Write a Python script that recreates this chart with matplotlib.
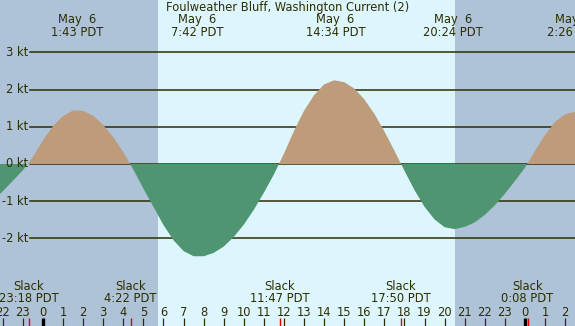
"""Foulweather Bluff current prediction, May 6 (flood/ebb fill with day/night bands)."""
import matplotlib
matplotlib.use("Agg")
import matplotlib.pyplot as plt
import numpy as np

# ---------------------------------------------------------------- data
# hours relative to May 6 00:00 PDT, current speed in knots
hours = [-2.5, -2.0, -1.5, -1.0, -0.5, 0.0, 0.5, 1.0, 1.5, 2.0, 2.5, 3.0,
         3.5, 4.0, 4.5, 5.0, 5.5, 6.0, 6.5, 7.0, 7.5, 8.0, 8.5, 9.0, 9.5,
         10.0, 10.5, 11.0, 11.5, 12.0, 12.5, 13.0, 13.5, 14.0, 14.5, 15.0,
         15.5, 16.0, 16.5, 17.0, 17.5, 18.0, 18.5, 19.0, 19.5, 20.0, 20.5,
         21.0, 21.5, 22.0, 22.5, 23.0, 23.5, 24.0, 24.5, 25.0, 25.5, 26.0,
         26.5, 27.0]
knots = [-1.00, -0.73, -0.45, -0.17, 0.19, 0.64, 1.02, 1.29, 1.44, 1.43,
         1.30, 1.05, 0.72, 0.32, -0.15, -0.66, -1.15, -1.64, -2.05, -2.34,
         -2.48, -2.48, -2.39, -2.22, -1.96, -1.63, -1.23, -0.77, -0.28,
         0.28, 0.89, 1.43, 1.85, 2.14, 2.25, 2.20, 2.03, 1.74, 1.35, 0.88,
         0.36, -0.18, -0.70, -1.15, -1.49, -1.70, -1.75, -1.69, -1.57,
         -1.37, -1.11, -0.80, -0.46, -0.10, 0.35, 0.78, 1.13, 1.34, 1.40,
         1.33]

sunrise, sunset = 5.71, 20.52

slack_hours = [-0.70, 4.37, 11.78, 17.83, 24.13]
slack_labels = ["23:18 PDT", "4:22 PDT", "11:47 PDT", "17:50 PDT", "0:08 PDT"]

max_hours = [1.72, 7.70, 14.57, 20.40, 26.43]
max_labels = ["1:43 PDT", "7:42 PDT", "14:34 PDT", "20:24 PDT", "2:26 PDT"]
max_day = "May  6"

tick_hours = list(range(-2, 27))
tick_labels = [str(h % 24) for h in tick_hours]

kt_levels = [-2, -1, 0, 1, 2, 3]
title = "Foulweather Bluff, Washington Current (2)"

# ---------------------------------------------------------------- style
W, H = 575, 326
NIGHT, DAY = "#aec3d8", "#ddf6fe"
FLOOD, EBB = "#bd9b7b", "#4f9571"
INK = "#2d2d00"
FS = 8.3


def fy(px):
    """pixel row (from top) -> axes fraction"""
    return 1 - px / H


fig = plt.figure(figsize=(W / 100, H / 100), dpi=100)
ax = fig.add_axes([0, 0, 1, 1])
ax.set_xlim(-43 / 20.08, (W - 43) / 20.08)
ax.set_ylim(-(H - 164) / 37.2, 164 / 37.2)
ax.axis("off")

xlo, xhi = ax.get_xlim()
ax.axvspan(xlo, sunrise, color=NIGHT, lw=0, zorder=0)
ax.axvspan(sunrise, sunset, color=DAY, lw=0, zorder=0)
ax.axvspan(sunset, xhi, color=NIGHT, lw=0, zorder=0)

for lv in kt_levels:
    ax.axhline(lv, xmin=30 / W, xmax=1, color=INK, lw=1.1, zorder=1)
    ax.text(28 / W, lv, f"{lv} kt", transform=ax.get_yaxis_transform(),
            ha="right", va="center", color=INK, fontsize=FS)

t = np.array(hours)
v = np.array(knots)
ax.fill_between(t, 0, v, where=v >= 0, interpolate=True, color=FLOOD,
                lw=0, zorder=2)
ax.fill_between(t, 0, v, where=v <= 0, interpolate=True, color=EBB,
                lw=0, zorder=2)

xt = ax.get_xaxis_transform()
ax.text(0.5, fy(8), title, transform=ax.transAxes, ha="center",
        va="center", color=INK, fontsize=FS)
for h, lab in zip(max_hours, max_labels):
    ax.text(h, fy(20), max_day, transform=xt, ha="center", va="center",
            color=INK, fontsize=FS)
    ax.text(h, fy(32), lab, transform=xt, ha="center", va="center",
            color=INK, fontsize=FS)

for h, lab in zip(slack_hours, slack_labels):
    ax.text(h, fy(287), "Slack", transform=xt, ha="center", va="center",
            color=INK, fontsize=FS)
    ax.text(h, fy(299), lab, transform=xt, ha="center", va="center",
            color=INK, fontsize=FS)
    ax.plot([h, h], [fy(318), 0], transform=xt, color="#e00000", lw=1.0,
            solid_capstyle="butt", zorder=4)

for h, lab in zip(tick_hours, tick_labels):
    wide = h % 24 == 0
    ax.plot([h, h], [fy(318), 0], transform=xt, color="black" if wide else INK,
            lw=2.4 if wide else 0.9, solid_capstyle="butt", zorder=3)
    ax.text(h, fy(312), lab, transform=xt, ha="center", va="center",
            color=INK, fontsize=FS)

fig.savefig("out.png", dpi=100)
